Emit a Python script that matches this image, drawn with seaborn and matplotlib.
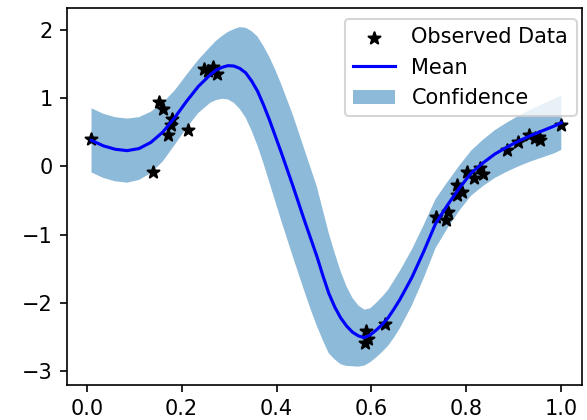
import numpy as np
import matplotlib
matplotlib.use("Agg")
import matplotlib.pyplot as plt
import seaborn as sns

# Observed training data
obs_x = [0.008, 0.140, 0.153, 0.160, 0.179, 0.177, 0.172, 0.214,
         0.247, 0.256, 0.267, 0.274,
         0.588, 0.629, 0.586, 0.593,
         0.737, 0.758, 0.762, 0.780, 0.780, 0.790, 0.801, 0.829, 0.836, 0.815,
         0.885, 0.909, 0.931, 0.945, 0.952, 0.955, 1.000]
obs_y = [0.40, -0.09, 0.94, 0.84, 0.69, 0.60, 0.46, 0.53,
         1.42, 1.40, 1.45, 1.36,
         -2.42, -2.31, -2.59, -2.53,
         -0.74, -0.79, -0.67, -0.42, -0.275, -0.37, -0.08, -0.03, -0.11, -0.17,
         0.24, 0.36, 0.46, 0.41, 0.43, 0.38, 0.60]

# Predictive mean and confidence region
test_x = [0.01, 0.035, 0.06, 0.085, 0.11, 0.135, 0.16, 0.185, 0.21, 0.235,
          0.26, 0.2725, 0.285, 0.2975, 0.31, 0.3225, 0.335, 0.3475, 0.36, 0.3725,
          0.385, 0.3975, 0.41, 0.4225, 0.435, 0.4475, 0.46, 0.4725, 0.485, 0.4975,
          0.51, 0.5225, 0.535, 0.5475, 0.56, 0.5725, 0.585, 0.5975, 0.61, 0.6225,
          0.635, 0.6475, 0.66, 0.685, 0.71, 0.735,
          0.76, 0.785, 0.81, 0.835, 0.86, 0.885, 0.91, 0.935, 0.96, 0.985, 1.0]
mean = [0.38, 0.30, 0.25, 0.23, 0.26, 0.35, 0.50, 0.71, 0.95, 1.17,
        1.34, 1.41, 1.45, 1.475, 1.47, 1.435, 1.37, 1.25, 1.10, 0.90,
        0.68, 0.44, 0.20, -0.05, -0.30, -0.56, -0.82, -1.07, -1.32, -1.60,
        -1.86, -2.06, -2.22, -2.34, -2.43, -2.485, -2.51, -2.47, -2.40, -2.32,
        -2.22, -2.09, -1.95, -1.63, -1.25, -0.84,
        -0.57, -0.32, -0.10, 0.05, 0.18, 0.28, 0.37, 0.45, 0.52, 0.59, 0.64]
upper = [0.85, 0.77, 0.72, 0.70, 0.72, 0.80, 0.93, 1.11, 1.34, 1.56,
         1.75, 1.84, 1.91, 1.97, 2.01, 2.04, 2.03, 1.98, 1.90, 1.76,
         1.60, 1.41, 1.20, 0.97, 0.74, 0.48, 0.22, -0.04, -0.30, -0.64,
         -0.98, -1.27, -1.54, -1.76, -1.93, -2.04, -2.10, -2.08, -2.00, -1.91,
         -1.81, -1.67, -1.53, -1.22, -0.86, -0.48,
         -0.23, 0.01, 0.23, 0.39, 0.53, 0.64, 0.74, 0.83, 0.91, 0.99, 1.04]
lower = [-0.09, -0.17, -0.22, -0.24, -0.20, -0.10, 0.07, 0.31, 0.56, 0.78,
         0.93, 0.97, 0.99, 0.98, 0.93, 0.84, 0.71, 0.52, 0.30, 0.04,
         -0.24, -0.52, -0.80, -1.07, -1.34, -1.60, -1.86, -2.11, -2.34, -2.55,
         -2.74, -2.83, -2.90, -2.925, -2.93, -2.935, -2.92, -2.87, -2.80, -2.72,
         -2.63, -2.51, -2.37, -2.04, -1.64, -1.20,
         -0.91, -0.65, -0.43, -0.29, -0.17, -0.08, 0.00, 0.07, 0.13, 0.19, 0.24]

W, H, DPI = 587, 420, 150
fig = plt.figure(figsize=(W / DPI, H / DPI), dpi=DPI)
ax = fig.add_axes([67.3 / W, 1 - 384.7 / H, 514.4 / W, 376.7 / H])

sns.scatterplot(x=obs_x, y=obs_y, marker="*", s=36, color="k",
                edgecolor="k", linewidth=1.0, zorder=2, ax=ax, legend=False)
sns.lineplot(x=test_x, y=mean, color="b", linewidth=1.5, ax=ax, legend=False)
fill = ax.fill_between(test_x, lower, upper, alpha=0.5, facecolor="C0",
                       edgecolor="none", linewidth=0, zorder=1)

handles = [ax.collections[0], ax.lines[0], fill]
ax.legend(handles, ["Observed Data", "Mean", "Confidence"],
          loc="upper right", bbox_to_anchor=(0.990, 0.971), borderaxespad=0,
          fontsize=10, scatterpoints=1)

ax.set_xlim(-0.041, 1.043)
ax.set_ylim(-3.20, 2.32)
ax.set_xticks([0.0, 0.2, 0.4, 0.6, 0.8, 1.0])
ax.set_yticks([-3, -2, -1, 0, 1, 2])
ax.tick_params(labelsize=10)

fig.savefig("out.png", dpi=DPI)
